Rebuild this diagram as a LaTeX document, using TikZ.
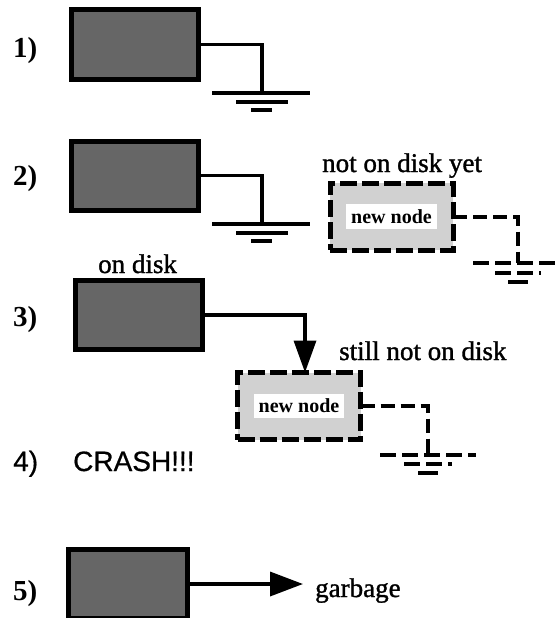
\documentclass[tikz,border=0pt]{standalone}
\usepackage{fontspec}
\setmainfont{Liberation Serif}
\newfontfamily\heavy[FakeBold=1.2]{Liberation Serif}
\newfontfamily\helv[FakeBold=0.6]{Liberation Sans}
\usetikzlibrary{arrows.meta}
\begin{document}
\begin{tikzpicture}[x=1pt,y=-1pt]
\tikzset{
 oldbox/.style={draw, line width=5pt, fill=black!60, minimum width=127pt, minimum height=69pt, inner sep=0pt, outer sep=0pt},
 newbox/.style={draw, line width=5pt, dash pattern=on 17pt off 5pt, fill=black!18, minimum width=123pt, minimum height=67pt, inner sep=0pt, outer sep=0pt, font=\bfseries\fontsize{20}{22}\selectfont},
 wire/.style={line width=3.5pt},
 dwire/.style={line width=4pt, dash pattern=on 14pt off 6pt},
 gnd/.style={line width=4.5pt},
 dgnd/.style={line width=4.5pt, dash pattern=on 16pt off 6pt},
 numlbl/.style={font=\bfseries\fontsize{29}{32}\selectfont, inner sep=0pt, anchor=base west},
 lbl/.style={font=\heavy\fontsize{27}{30}\selectfont, inner sep=0pt, anchor=base west},
 sanslbl/.style={font=\helv\fontsize{28}{30}\selectfont, inner sep=0pt, anchor=base west},
 bigarrow/.style={wire, -{Triangle[length=32pt,width=22pt]}},
}
\useasboundingbox[fill=white] (0,0) rectangle (559,618);

% row 1
\node[oldbox] (b1) at (134.5,44.5) {};
\node[numlbl] (l1) at (13,58) {1)};
\coordinate (g1) at (262,93);
\draw[wire] (b1.east) -| (g1);
\draw[gnd] (212,93) -- (310,93);
\draw[gnd] (236,102) -- (288,102);
\draw[gnd] (251,110) -- (272,110);

% row 2
\node[oldbox] (b2) at (134.5,175.5) {};
\node[numlbl] (l2) at (13,185) {2)};
\coordinate (g2) at (262,224);
\draw[wire] (b2.east) -| (g2);
\draw[gnd] (212,224) -- (310,224);
\draw[gnd] (236,233) -- (288,233);
\draw[gnd] (251,241) -- (272,241);

\node[lbl] (t2) at (322,172) {not on disk yet};
\node[newbox] (n2) at (391.5,216.5) {\setlength{\fboxsep}{5pt}\colorbox{white}{new node}};
\coordinate (h2) at (518,263);
\draw[dwire] (n2.east) -| (h2);
\draw[dgnd] (473,263) -- (559,263);
\draw[dgnd] (495,273) -- (541,273);
\draw[gnd] (508,282) -- (528,282);

% row 3
\node[lbl] (t3) at (98,273) {on disk};
\node[oldbox] (b3) at (138.5,315) {};
\node[numlbl] (l3) at (13,326) {3)};
\node[newbox] (n3) at (299,406) {\setlength{\fboxsep}{5pt}\colorbox{white}{new node}};
\coordinate (k3) at (305,315);
\draw[bigarrow] (b3.east) -- (k3) -- (k3 |- n3.north);
\node[lbl] (t4) at (339,360) {still not on disk};
\coordinate (h3) at (428,455);
\draw[dwire] (n3.east) -| (h3);
\draw[dgnd] (380,455) -- (476,455);
\draw[dgnd] (404,464) -- (452,464);
\draw[gnd] (418,473) -- (438,473);

% row 4
\node[sanslbl] (l4) at (13,471) {4)};
\node[sanslbl] (crash) at (73,471) {CRASH!!!};

% row 5
\node[oldbox, minimum width=119pt] (b5) at (127.5,584) {};
\node[numlbl] (l5) at (13,600) {5)};
\node[lbl] (garb) at (315,597) {garbage};
\draw[wire, -{Triangle[length=33pt,width=24pt]}] (b5.east) -- ([xshift=-12pt]b5.east -| garb.west);
\end{tikzpicture}
\end{document}
